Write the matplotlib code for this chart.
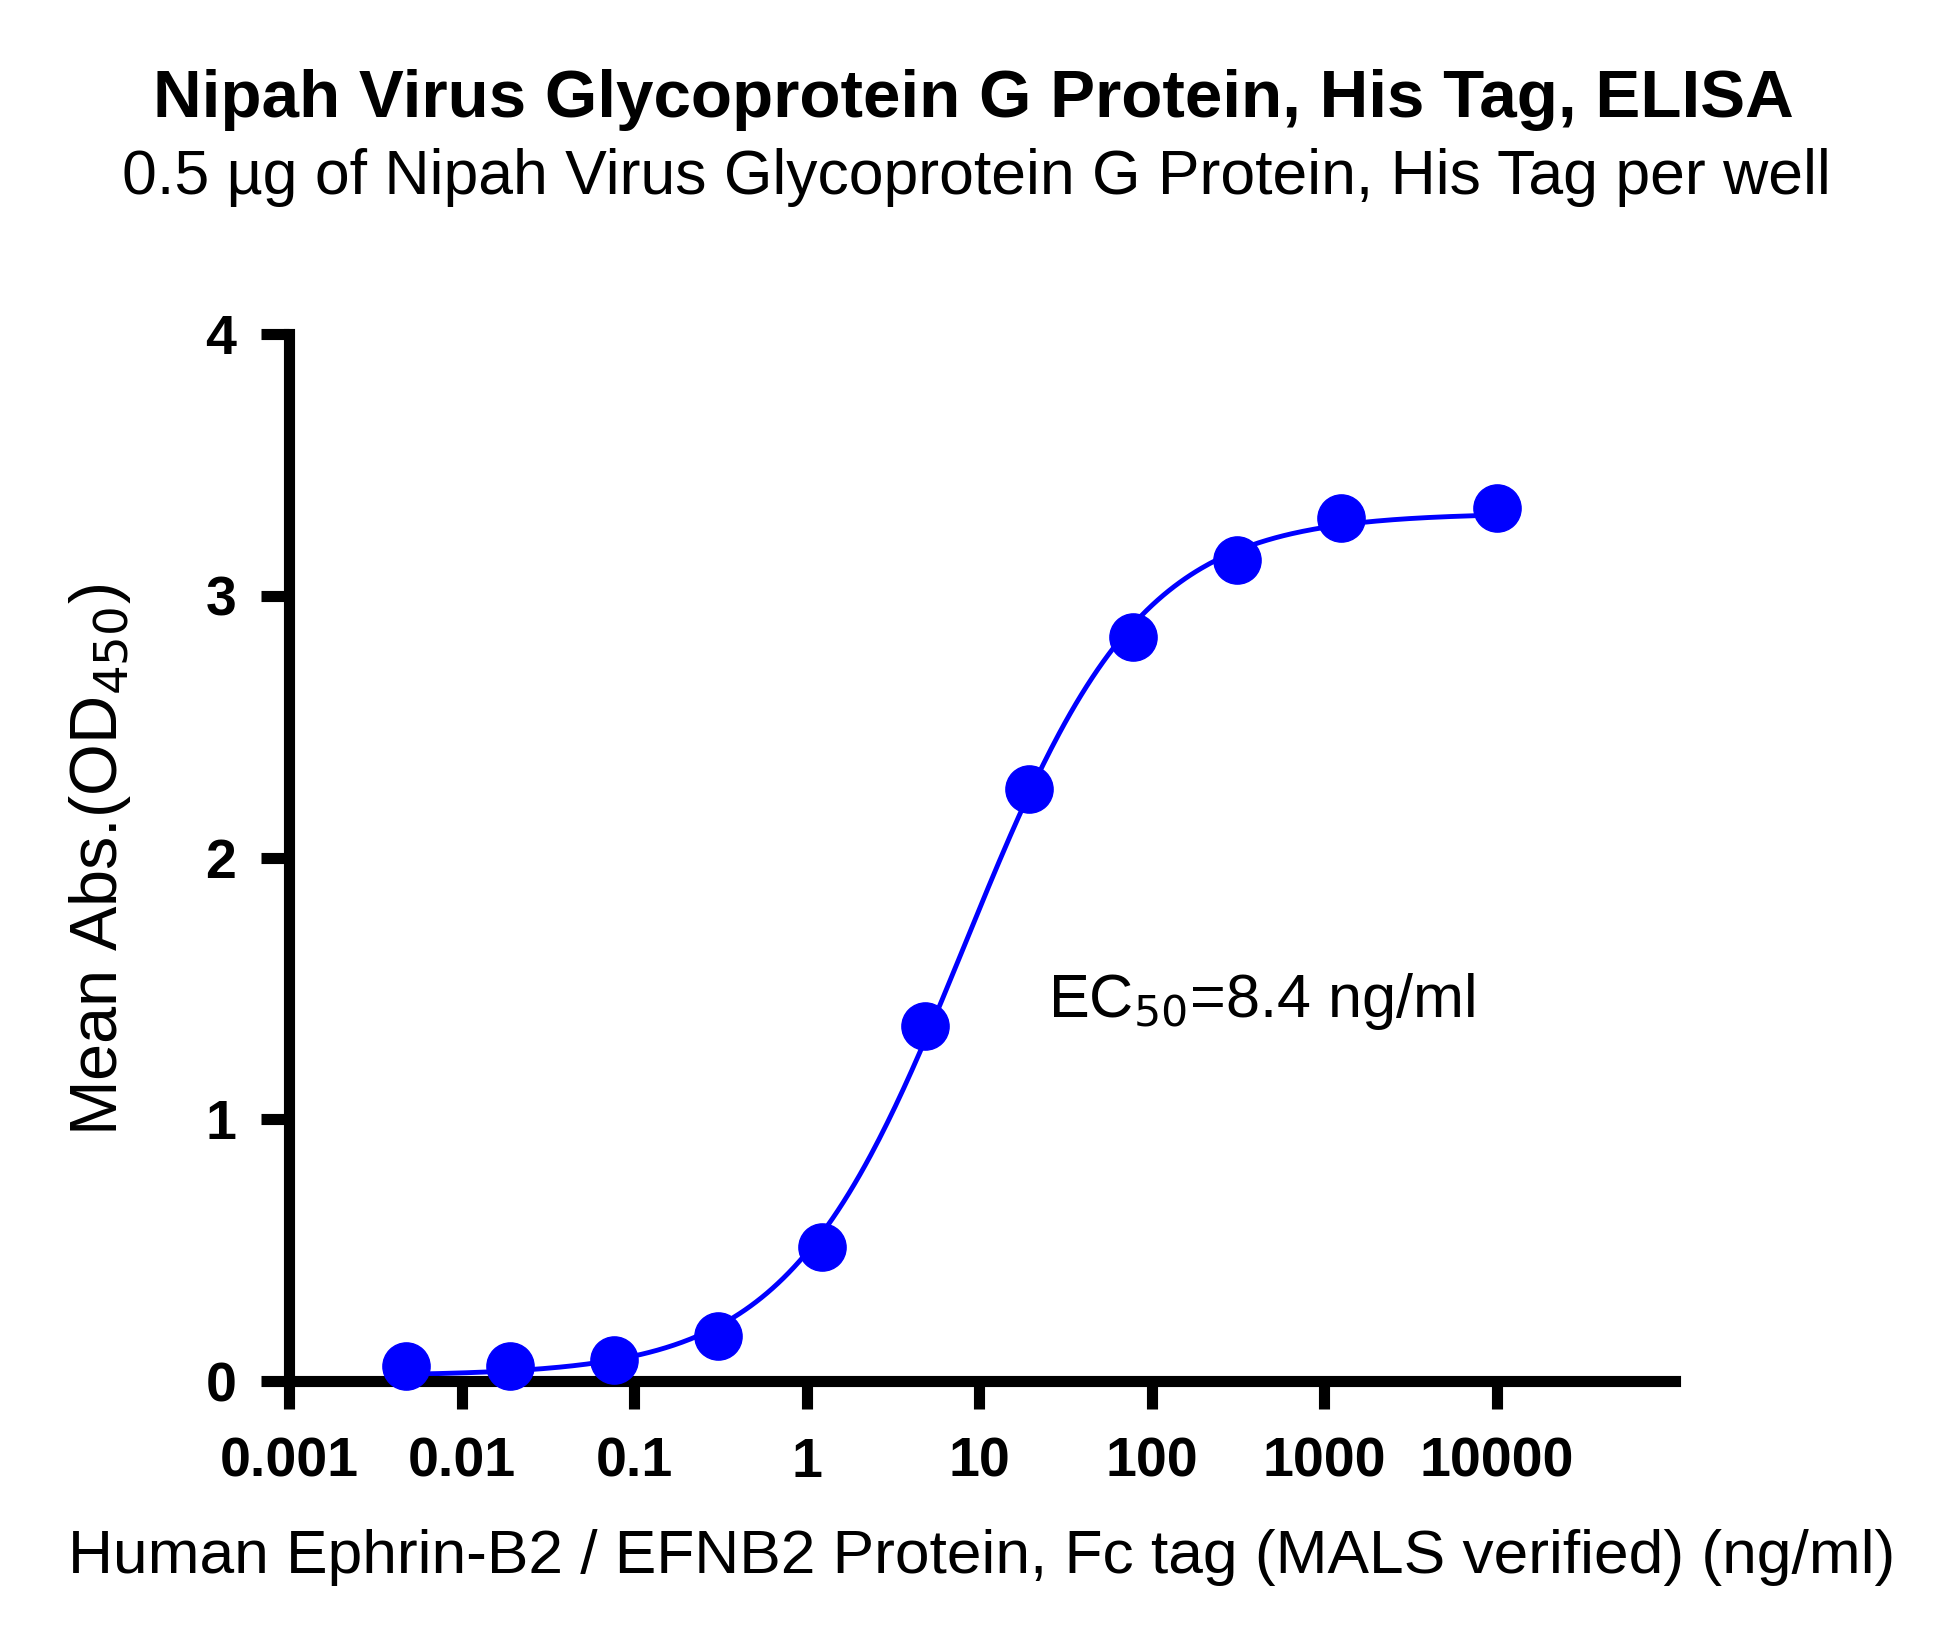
"""
Nipah Virus Glycoprotein G ELISA curve
"""
import numpy as np
import matplotlib
matplotlib.use("Agg")
import matplotlib.pyplot as plt

conc = [10000, 1250, 312.5, 78.125, 19.53, 4.883, 1.221, 0.3052, 0.0763, 0.01907, 0.004768]
od450 = [3.336, 3.298, 3.136, 2.842, 2.263, 1.357, 0.512, 0.171, 0.081, 0.057, 0.057]
x_ticks = [0.001, 0.01, 0.1, 1, 10, 100, 1000, 10000]
x_tick_labels = ["0.001", "0.01", "0.1", "1", "10", "100", "1000", "10000"]
y_ticks = [0, 1, 2, 3, 4]

plt.rcParams["font.family"] = ["Liberation Sans", "DejaVu Sans"]

x = np.array(conc)
y = np.array(od450)

# 4PL fit: grid over hill slope and log EC50, bottom/top solved linearly
best = None
for h in np.linspace(0.5, 1.5, 201):
    for lec in np.linspace(np.log10(3), np.log10(30), 201):
        g = 1.0 / (1.0 + (10**lec / x) ** h)
        A = np.column_stack([1 - g, g])
        coef, res, _, _ = np.linalg.lstsq(A, y, rcond=None)
        err = np.sum((A @ coef - y) ** 2)
        if best is None or err < best[0]:
            best = (err, h, lec, coef)
_, hill, log_ec50, (bottom, top) = best

xs = np.logspace(np.log10(min(conc)), np.log10(max(conc)), 400)
ys = bottom + (top - bottom) / (1.0 + (10**log_ec50 / xs) ** hill)

fig = plt.figure(figsize=(19.46, 16.37), dpi=100)
ax = fig.add_axes([0.1485, 0.1563, 0.8605 - 0.1485, 0.796 - 0.1563])

ax.plot(xs, ys, color="#0000ff", linewidth=3.5, zorder=2)
ax.plot(conc, od450, "o", color="#0000ff", markersize=34, zorder=3, clip_on=False)

ax.set_xscale("log")
ax.set_xlim(1e-3, 10**5.03)
ax.set_ylim(0, 4)
ax.set_xticks(x_ticks)
ax.set_xticklabels(x_tick_labels)
ax.xaxis.set_minor_locator(matplotlib.ticker.NullLocator())
ax.set_yticks(y_ticks)

for s in ["top", "right"]:
    ax.spines[s].set_visible(False)
for s in ["left", "bottom"]:
    ax.spines[s].set_linewidth(8)
ax.tick_params(axis="both", width=8, length=20, labelsize=40)
ax.tick_params(axis="x", pad=20)
ax.tick_params(axis="y", pad=18)
for lbl in ax.get_xticklabels() + ax.get_yticklabels():
    lbl.set_fontweight("bold")

ax.text(25, 1.45, "EC$_{50}$=8.4 ng/ml", fontsize=44, va="center", ha="left")

fig.text(0.5, 0.939, "Nipah Virus Glycoprotein G Protein, His Tag, ELISA",
         fontsize=48.5, fontweight="bold", ha="center", va="center")
fig.text(0.5015, 0.8915, "0.5 µg of Nipah Virus Glycoprotein G Protein, His Tag per well",
         fontsize=45, ha="center", va="center")
fig.text(0.5042, 1 - 1557 / 1637, "Human Ephrin-B2 / EFNB2 Protein, Fc tag (MALS verified) (ng/ml)",
         fontsize=44.8, ha="center", va="center")
fig.text(100 / 1946, 1 - 860 / 1637, "Mean Abs.(OD$_{450}$)",
         fontsize=48, ha="center", va="center", rotation=90)

fig.savefig("out.png", dpi=100)
